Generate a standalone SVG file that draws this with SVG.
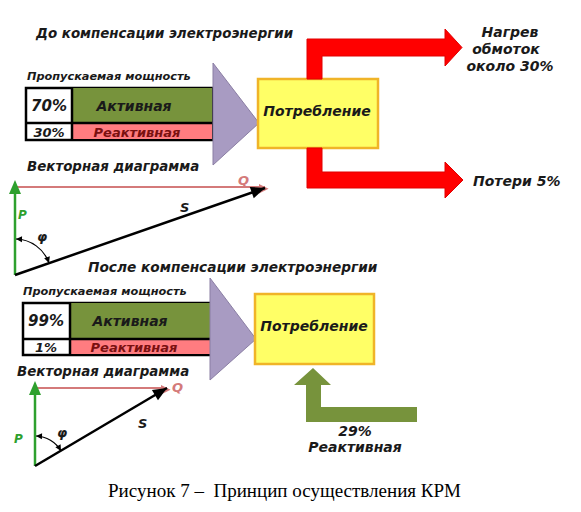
<svg xmlns="http://www.w3.org/2000/svg" width="581" height="512" viewBox="0 0 581 512">
<style>
  .t { font-family: "DejaVu Sans", Verdana, sans-serif; font-weight: bold; font-style: italic; fill: #1a1a1a; }
  .cap { font-family: "Liberation Serif", "Times New Roman", serif; font-size: 19px; fill: #000; white-space: pre; }
  .tri { fill: #a89bc2; stroke: #8a7ea3; stroke-width: 1; }
  .box { fill: #ffff66; stroke: #f0b428; stroke-width: 2.5; }
  .green { fill: #77933c; }
  .pink { fill: #ff7c80; }
  .frame { fill: #ffffff; stroke: #000; stroke-width: 2.5; }
  .red { fill: #ff0000; stroke: #e00000; stroke-width: 1; }
  .garrow { fill: #77933c; }
  .vq { stroke: #d47a7a; stroke-width: 2; fill: none; }
  .vp { stroke: #2ea02e; stroke-width: 2.5; fill: none; }
  .vs { stroke: #000; stroke-width: 2.5; fill: none; }
  .arc { stroke: #000; stroke-width: 1.2; fill: none; }
</style>
<defs>
  <marker id="mq" viewBox="0 0 10 10" refX="10" refY="5" markerWidth="7" markerHeight="6" markerUnits="userSpaceOnUse" orient="auto" overflow="visible">
    <path d="M0,0 L10,5 L0,10 z" fill="#d47a7a" transform="scale(1.6)"/>
  </marker>
  <marker id="mp" viewBox="0 0 10 10" refX="5" refY="0" markerUnits="userSpaceOnUse" orient="auto" overflow="visible" markerWidth="10" markerHeight="10">
    <path d="M0,-6 L14,0 L0,6 z" fill="#2ea02e"/>
  </marker>
  <marker id="ms" viewBox="0 0 10 10" refX="0" refY="0" markerUnits="userSpaceOnUse" orient="auto" overflow="visible" markerWidth="10" markerHeight="10">
    <path d="M-14,-6 L0,0 L-14,6 z" fill="#000"/>
  </marker>
  <marker id="ma" viewBox="0 0 10 10" refX="0" refY="0" markerUnits="userSpaceOnUse" orient="auto-start-reverse" overflow="visible" markerWidth="10" markerHeight="10">
    <path d="M-6,-3 L0,0 L-6,3 z" fill="#000"/>
  </marker>
</defs>

<rect width="581" height="512" fill="#ffffff"/>

<!-- Top section -->
<g id="title-before">
  <text class="t" x="36" y="38" font-size="13.4">До компенсации электроэнергии</text>
</g>

<g id="bar-before">
  <text class="t" x="27" y="80" font-size="11.3">Пропускаемая мощность</text>
  <rect class="frame" x="26" y="88" width="186" height="52"/>
  <rect class="green" x="72" y="88" width="140" height="35"/>
  <rect class="pink" x="72" y="124" width="140" height="15"/>
  <line x1="26" y1="123" x2="212" y2="123" stroke="#000" stroke-width="2.5"/>
  <line x1="72" y1="88" x2="72" y2="140" stroke="#000" stroke-width="2.5"/>
  <text class="t" x="49" y="111" font-size="15" text-anchor="middle">70%</text>
  <text class="t" x="134" y="111" font-size="14" text-anchor="middle">Активная</text>
  <text class="t" x="49" y="137" font-size="13" text-anchor="middle">30%</text>
  <text class="t" x="137" y="137" font-size="13" text-anchor="middle" style="fill:#7a1010">Реактивная</text>
</g>

<g id="triangle-before">
  <polygon class="tri" points="213,63 259,123 213,165"/>
</g>

<g id="consumption-before">
  <rect class="box" x="258" y="79" width="120" height="69"/>
  <text class="t" x="317" y="116" font-size="14" text-anchor="middle">Потребление</text>
</g>

<g id="heating">
  <text class="t" x="510" y="37" font-size="14" text-anchor="middle">Нагрев</text>
  <text class="t" x="506" y="54" font-size="14" text-anchor="middle">обмоток</text>
  <text class="t" x="510" y="71" font-size="14" text-anchor="middle">около 30%</text>
</g>

<g id="losses">
  <text class="t" x="473" y="186" font-size="14">Потери 5%</text>
</g>

<g id="connectors">
  <polygon class="red" points="307,79 307,39 445,39 445,29 462,47.5 445,66 445,56 322,56 322,79"/>
  <polygon class="red" points="307,148 307,188 445,188 445,198 463,180 445,162 445,172 322,172 322,148"/>
  <polygon class="garrow" points="306,422 417,422 417,407 321,407 321,385 331,385 313,368 294,385 306,385"/>
</g>

<g id="vector-before">
  <text class="t" x="27" y="171" font-size="13.4">Векторная диаграмма</text>
  <line class="vq" x1="15" y1="187" x2="265" y2="187" marker-end="url(#mq)"/>
  <line class="vp" x1="15" y1="275" x2="15" y2="189" marker-end="url(#mp)"/>
  <line class="vs" x1="15" y1="275" x2="265" y2="188" marker-end="url(#ms)"/>
  <path class="arc" d="M16,239 A36,36 0 0 1 49,263" marker-start="url(#ma)" marker-end="url(#ma)"/>
  <text class="t" x="238" y="185" font-size="13" style="fill:#d47a7a">Q</text>
  <text class="t" x="180" y="212" font-size="13">S</text>
  <text class="t" x="18" y="219" font-size="12" style="fill:#2ea02e">P</text>
  <text class="t" x="37" y="241" font-size="13">φ</text>
</g>

<!-- Bottom section -->
<g id="title-after">
  <text class="t" x="88" y="272" font-size="13.7">После компенсации электроэнергии</text>
</g>

<g id="bar-after">
  <text class="t" x="23" y="295" font-size="11.3">Пропускаемая мощность</text>
  <rect class="frame" x="23" y="303" width="187" height="52"/>
  <rect class="green" x="70" y="303" width="140" height="35"/>
  <rect class="pink" x="70" y="340" width="140" height="14"/>
  <line x1="23" y1="339" x2="210" y2="339" stroke="#000" stroke-width="2.5"/>
  <line x1="70" y1="303" x2="70" y2="355" stroke="#000" stroke-width="2.5"/>
  <text class="t" x="46" y="326" font-size="15" text-anchor="middle">99%</text>
  <text class="t" x="130" y="326" font-size="14" text-anchor="middle">Активная</text>
  <text class="t" x="46" y="352" font-size="13" text-anchor="middle">1%</text>
  <text class="t" x="134" y="352" font-size="13" text-anchor="middle" style="fill:#7a1010">Реактивная</text>
</g>

<g id="triangle-after">
  <polygon class="tri" points="210,278 256,339 210,380"/>
</g>

<g id="consumption-after">
  <rect class="box" x="255" y="294" width="119" height="70"/>
  <text class="t" x="314" y="331" font-size="14" text-anchor="middle">Потребление</text>
</g>

<g id="reactive-supply">
  <text class="t" x="355" y="436" font-size="14" text-anchor="middle">29%</text>
  <text class="t" x="355" y="452" font-size="14" text-anchor="middle">Реактивная</text>
</g>

<g id="vector-after">
  <text class="t" x="17" y="376" font-size="13.4">Векторная диаграмма</text>
  <line class="vq" x1="35" y1="388" x2="167" y2="388" marker-end="url(#mq)"/>
  <line class="vp" x1="35" y1="466" x2="35" y2="390" marker-end="url(#mp)"/>
  <line class="vs" x1="35" y1="466" x2="167" y2="388" marker-end="url(#ms)"/>
  <path class="arc" d="M36,436 A30,30 0 0 1 61,451" marker-start="url(#ma)" marker-end="url(#ma)"/>
  <text class="t" x="172" y="392" font-size="13" style="fill:#d47a7a">Q</text>
  <text class="t" x="138" y="428" font-size="13">S</text>
  <text class="t" x="14" y="443" font-size="12" style="fill:#2ea02e">P</text>
  <text class="t" x="57" y="437" font-size="13">φ</text>
</g>

<g id="caption">
  <text class="cap" x="108" y="497" textLength="353" lengthAdjust="spacingAndGlyphs">Рисунок 7 –  Принцип осуществления КРМ</text>
</g>
</svg>
